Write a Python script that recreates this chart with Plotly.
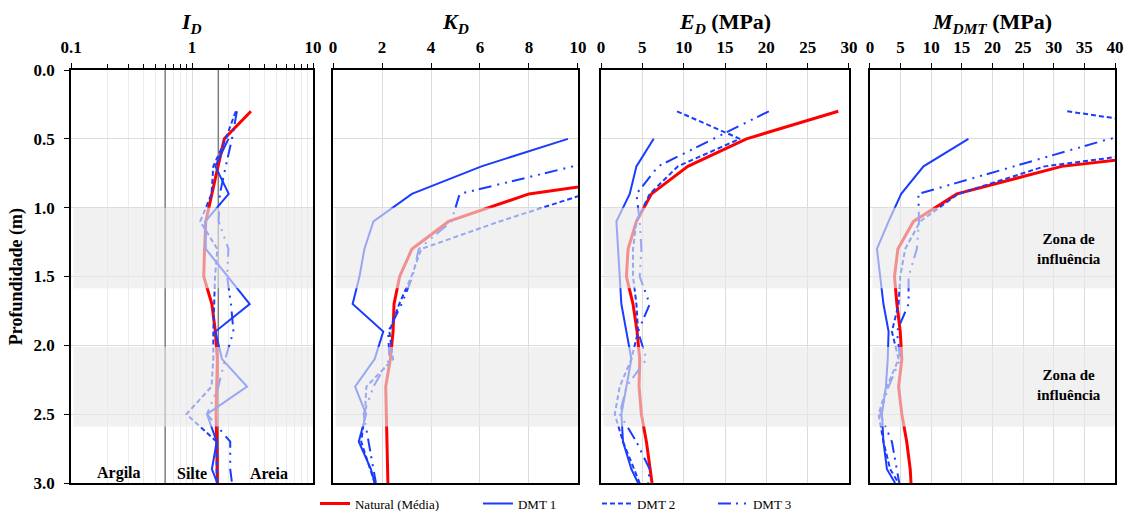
import math
import plotly.graph_objects as go

# ---------------- data ----------------
depth = [0.3, 0.5, 0.7, 0.9, 1.1, 1.3, 1.5, 1.7, 1.9, 2.1, 2.3, 2.5, 2.7, 2.9, 3.0]

series_names = ["Natural (Média)", "DMT 1", "DMT 2", "DMT 3"]

id_nat = [3.07, 1.85, 1.64, 1.46, 1.30, 1.27, 1.25, 1.46, 1.56, 1.62, 1.60, 1.58, 1.60, 1.62, 1.62]
id_dmt1 = [None, 2.00, 1.56, 2.01, 1.29, 1.30, 1.98, 3.00, 1.56, 1.77, 2.85, 1.33, 1.60, 1.46, 1.62]
id_dmt2 = [2.30, 1.90, 1.50, 1.45, 1.17, 1.62, 1.55, 1.52, 1.50, 1.50, 1.45, 0.90, 1.60, 1.60, 1.60]
id_dmt3 = [2.35, 2.14, 1.90, 1.70, 1.66, 2.00, 1.95, 2.10, 2.20, 1.88, 1.65, 1.33, 2.07, 2.07, 2.14]

kd_nat = [25.0, 20.0, 16.0, 8.00, 4.72, 3.22, 2.72, 2.49, 2.45, 2.34, 2.15, 2.18, 2.20, 2.23, 2.24]
kd_dmt1 = [None, 9.59, 6.06, 3.22, 1.65, 1.28, 1.08, 0.80, 2.05, 1.70, 0.90, 1.35, 1.05, 1.55, 1.70]
kd_dmt2 = [30.0, 25.0, 16.0, 10.3, 6.80, 3.60, 3.20, 2.70, 2.30, 2.45, 1.36, 1.30, 1.15, 1.50, 1.70]
kd_dmt3 = [20.0, 14.0, 9.80, 5.17, 4.83, 3.50, 3.25, 2.80, 2.25, 2.30, 1.65, 1.25, 1.45, 1.65, 1.75]

ed_nat = [28.7, 17.6, 10.5, 6.10, 4.28, 3.27, 3.07, 3.87, 4.36, 4.68, 4.60, 4.88, 5.49, 5.89, 6.17]
ed_dmt1 = [None, 6.37, 4.28, 3.47, 1.86, 2.06, 2.26, 2.46, 3.07, 3.67, 3.07, 2.46, 2.66, 3.67, 4.48]
ed_dmt2 = [9.19, 16.8, 9.30, 5.90, 4.28, 3.87, 3.87, 4.28, 4.48, 3.67, 2.26, 1.66, 2.66, 4.07, 4.68]
ed_dmt3 = [20.3, 13.6, 6.90, 4.28, 4.68, 4.88, 4.68, 5.89, 4.48, 5.50, 3.07, 2.26, 4.28, 5.89, 5.70]

md_nat = [95.0, 70.0, 31.3, 14.2, 7.10, 4.56, 4.00, 4.40, 4.94, 5.20, 4.67, 5.20, 6.00, 6.57, 6.70]
md_dmt1 = [None, 16.07, 8.74, 5.10, 3.04, 1.14, 1.68, 2.20, 3.04, 2.90, 2.60, 1.95, 2.20, 2.77, 4.10]
md_dmt2 = [32.2, 63.0, 28.5, 14.4, 8.20, 5.75, 4.94, 4.67, 3.58, 4.67, 2.77, 1.41, 2.20, 3.30, 4.67]
md_dmt3 = [70.0, 39.1, 23.5, 7.90, 8.00, 7.65, 6.30, 6.30, 4.40, 4.94, 3.04, 1.68, 3.58, 4.40, 4.78]

panel_titles = ["<b><i>I</i><sub><i>D</i></sub></b>",
                "<b><i>K</i><sub><i>D</i></sub></b>",
                "<b><i>E</i><sub><i>D</i></sub> (MPa)</b>",
                "<b><i>M</i><sub><i>DMT</i></sub> (MPa)</b>"]

soil_limits = [0.6, 1.65]
soil_labels = ["Argila", "Silte", "Areia"]
soil_label_x = [0.25, 1.0, 4.3]
influence_zones = [(1.0, 1.585), (2.013, 2.59)]
zone_label = "Zona de<br>influência"
zone_label_depth = [1.3, 2.29]

panels = [
    [id_nat, id_dmt1, id_dmt2, id_dmt3],
    [kd_nat, kd_dmt1, kd_dmt2, kd_dmt3],
    [ed_nat, ed_dmt1, ed_dmt2, ed_dmt3],
    [md_nat, md_dmt1, md_dmt2, md_dmt3],
]

# ---------------- style ----------------
FONT = "Liberation Serif, Times New Roman, serif"
BLUE = "#1a3cff"
line_styles = [
    dict(color="#ff0000", width=3, dash="solid"),
    dict(color=BLUE, width=2, dash="solid"),
    dict(color=BLUE, width=2, dash="5px,3px"),
    dict(color=BLUE, width=2, dash="13px,5px,2px,6px,2px,6px"),
]
domains = [(0.0, 0.2318), (0.2510, 0.4856), (0.5077, 0.7452), (0.7653, 1.0)]
legend_x = [0.2337, 0.3898, 0.5038, 0.6149]
legend_keys = ["legend", "legend2", "legend3", "legend4"]

fig = go.Figure()

# soil boundary lines in ID panel
for v in soil_limits:
    fig.add_trace(go.Scatter(x=[v, v], y=[0, 3], mode="lines",
                             line=dict(color="#7f7f7f", width=1.5),
                             showlegend=False, hoverinfo="skip",
                             xaxis="x", yaxis="y"))

for p, vals in enumerate(panels):
    xa = "x" if p == 0 else f"x{p+1}"
    ya = "y" if p == 0 else f"y{p+1}"
    for s, v in enumerate(vals):
        fig.add_trace(go.Scatter(
            x=v, y=depth, mode="lines", name=series_names[s],
            line=line_styles[s], xaxis=xa, yaxis=ya,
            showlegend=(p == 0), legend=legend_keys[s],
            connectgaps=False))

# axes
axis_common = dict(showline=True, linecolor="black", linewidth=1.5, mirror=True,
                   showgrid=True, gridcolor="#dcdcdc", gridwidth=1,
                   ticks="outside", ticklen=5, tickcolor="black",
                   tickfont=dict(family=FONT, size=17, color="black"),
                   zeroline=False, side="top", ticklabelstandoff=3, automargin=False)

x_settings = [
    dict(type="log", range=[-1, 1], tickvals=[0.1, 1, 10], ticktext=["<b>0.1</b>", "<b>1</b>", "<b>10</b>"],
         minor=dict(dtick="D1", showgrid=True, gridcolor="#ececec", ticks="outside", ticklen=4,
                    tickcolor="black")),
    dict(range=[0, 10], tickvals=[0, 2, 4, 6, 8, 10],
         ticktext=[f"<b>{t}</b>" for t in [0, 2, 4, 6, 8, 10]]),
    dict(range=[0, 30], tickvals=[0, 5, 10, 15, 20, 25, 30],
         ticktext=[f"<b>{t}</b>" for t in [0, 5, 10, 15, 20, 25, 30]]),
    dict(range=[0, 40], tickvals=[0, 5, 10, 15, 20, 25, 30, 35, 40],
         ticktext=[f"<b>{t}</b>" for t in [0, 5, 10, 15, 20, 25, 30, 35, 40]]),
]

layout = dict(
    width=1126, height=511,
    margin=dict(l=71, r=11, t=70, b=28, autoexpand=False),
    paper_bgcolor="white", plot_bgcolor="white",
    font=dict(family=FONT, color="black"),
)
for p in range(4):
    xk = "xaxis" if p == 0 else f"xaxis{p+1}"
    yk = "yaxis" if p == 0 else f"yaxis{p+1}"
    ax = dict(axis_common)
    ax.update(x_settings[p])
    ax.update(domain=list(domains[p]), anchor="y" if p == 0 else f"y{p+1}")
    layout[xk] = ax
    yax = dict(showline=True, linecolor="black", linewidth=1.5, mirror=True,
               showgrid=True, gridcolor="#dcdcdc", zeroline=False, automargin=False,
               range=[3, 0], tickvals=[0, 0.5, 1.0, 1.5, 2.0, 2.5, 3.0],
               anchor="x" if p == 0 else f"x{p+1}", domain=[0, 1])
    if p == 0:
        yax.update(ticktext=[f"<b>{t:.1f}</b>" for t in [0, 0.5, 1.0, 1.5, 2.0, 2.5, 3.0]],
                   ticks="outside", ticklen=5, tickcolor="black", ticklabelstandoff=6,
                   tickfont=dict(family=FONT, size=17, color="black"))
    else:
        yax.update(showticklabels=False, ticks="", matches="y")
    layout[yk] = yax

for i, key in enumerate(legend_keys):
    layout[key] = dict(x=legend_x[i], xanchor="left", y=-0.05, yanchor="middle",
                       orientation="h", bgcolor="rgba(0,0,0,0)",
                       font=dict(family=FONT, size=13, color="black"))

fig.update_layout(**layout)

# influence zone bands (drawn above the lines, semi-transparent)
shapes = []
for p in range(4):
    xr = "x domain" if p == 0 else f"x{p+1} domain"
    yr = "y" if p == 0 else f"y{p+1}"
    for (a, b) in influence_zones:
        shapes.append(dict(type="rect", xref=xr, yref=yr, x0=0.01, x1=1.0, y0=a, y1=b,
                           fillcolor="rgba(232,232,232,0.62)", line=dict(width=0),
                           layer="above"))
fig.update_layout(shapes=shapes)

annotations = []
title_centers = [sum(d) / 2 for d in domains]
for p in range(4):
    annotations.append(dict(text=panel_titles[p], x=title_centers[p], y=1.115,
                            xref="paper", yref="paper", showarrow=False,
                            xanchor="center", yanchor="middle",
                            font=dict(family=FONT, size=22, color="black")))
for lbl, xv in zip(soil_labels, soil_label_x):
    annotations.append(dict(text=f"<b>{lbl}</b>", x=math.log10(xv), y=2.93, xref="x", yref="y",
                            showarrow=False, xanchor="center", yanchor="middle",
                            font=dict(family=FONT, size=16, color="black")))
for dv in zone_label_depth:
    annotations.append(dict(text=f"<b>{zone_label}</b>", x=32.5, y=dv, xref="x4", yref="y4",
                            showarrow=False, xanchor="center", yanchor="middle",
                            font=dict(family=FONT, size=15, color="black")))
annotations.append(dict(text="<b>Profundidade (m)</b>", x=-0.052, y=0.5, xref="paper", yref="paper",
                        textangle=-90, showarrow=False, xanchor="center", yanchor="middle",
                        font=dict(family=FONT, size=18, color="black")))
fig.update_layout(annotations=annotations)

fig.write_html("out.html", config={"displayModeBar": False},
               post_script="document.body.style.margin='0';document.body.style.padding='0';")
